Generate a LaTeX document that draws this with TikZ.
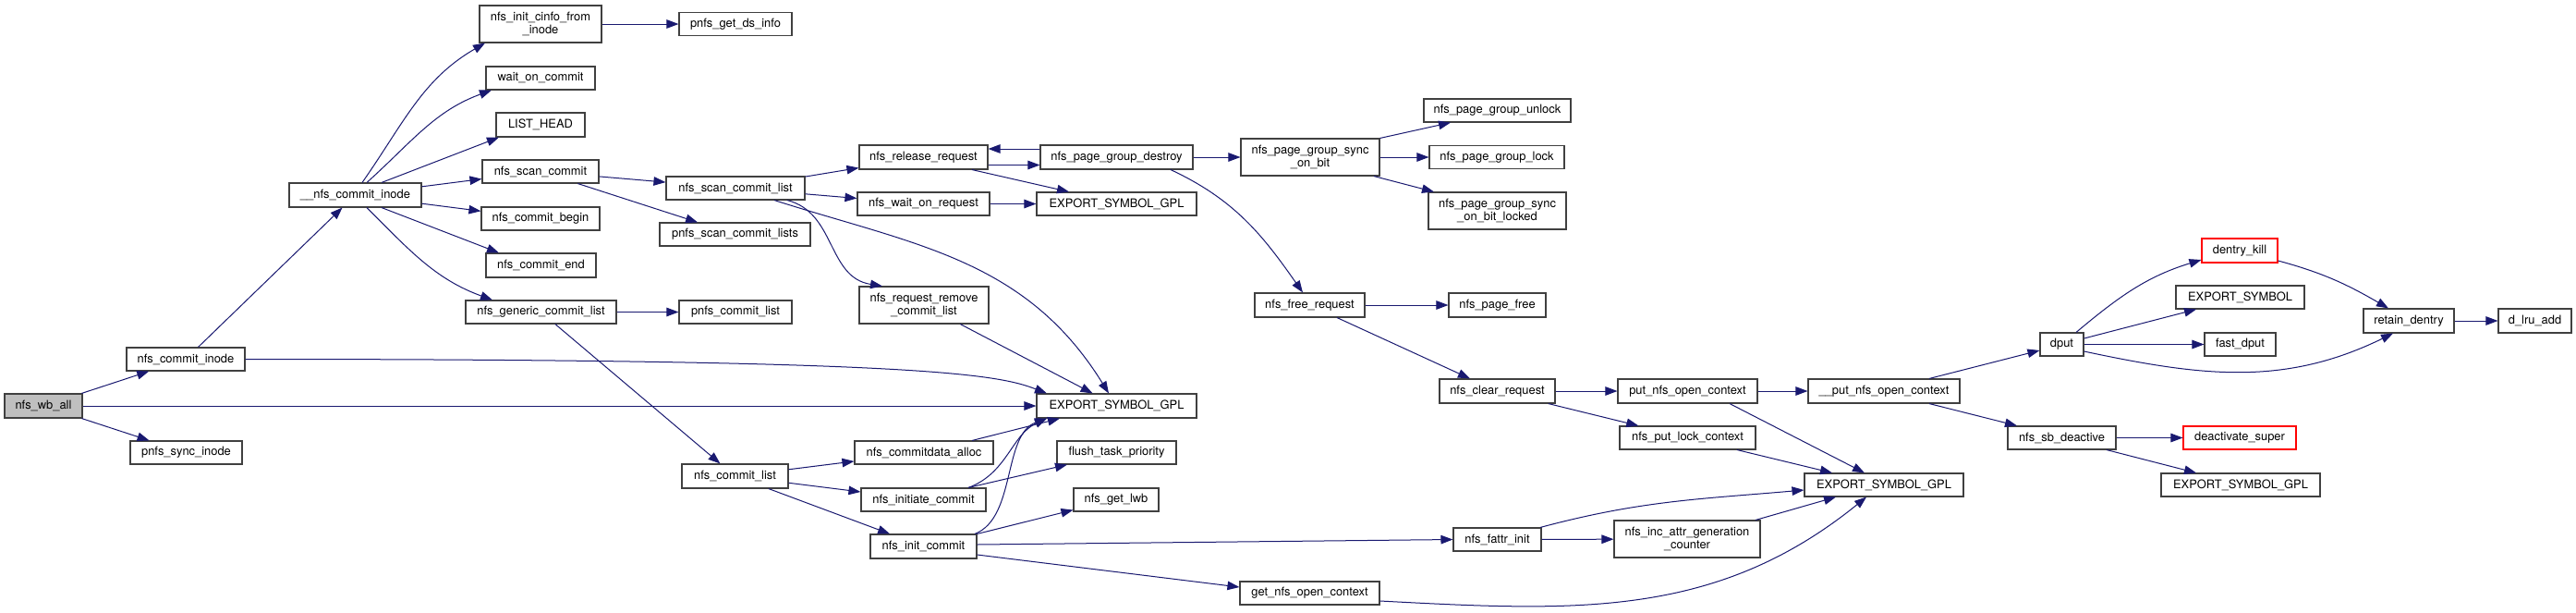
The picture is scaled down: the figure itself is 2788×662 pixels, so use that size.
\documentclass[tikz,border=0pt]{standalone}
\usepackage{fontspec}
\setmainfont{TeX Gyre Heros}
\usetikzlibrary{arrows.meta}
\definecolor{edgec}{HTML}{191970}
\definecolor{boxc}{HTML}{404040}
\definecolor{hl}{HTML}{BFBFBF}
\definecolor{redc}{HTML}{FF0000}
\begin{document}
\begin{tikzpicture}[x=1pt,y=-1pt,
 box/.style={draw=boxc, line width=1.1pt, fill=white, inner sep=0pt, align=center, font=\fontsize{12.9}{14.5}\selectfont},
 redbox/.style={box, draw=redc},
 wh/.style 2 args={minimum width=#1pt, minimum height=#2pt},
 edg/.style={draw=edgec, line width=1pt, -{Triangle[length=13pt,width=9.5pt]}},
]
\useasboundingbox (0,0) rectangle (2788,662);
\fill[white] (0,0) rectangle (2788,662);

\node[box,fill=hl,wh={84}{26}] (wball) at (47,439) {nfs\_wb\_all};
\node[box,wh={128}{25}] (nci) at (201,388.5) {nfs\_commit\_inode};
\node[box,wh={121}{25}] (psi) at (201.5,489.5) {pnfs\_sync\_inode};
\node[box,wh={143}{26}] (cni) at (384.5,211) {\_\_nfs\_commit\_inode};
\node[box,wh={132}{40}] (cinfo) at (585,26) {nfs\_init\_cinfo\_from\\\_inode};
\node[box,wh={122}{25.5}] (pgds) at (796,26) {pnfs\_get\_ds\_info};
\node[box,wh={118}{25}] (woc) at (585,84.5) {wait\_on\_commit};
\node[box,wh={96}{26}] (lh) at (585,135) {LIST\_HEAD};
\node[box,wh={126}{25}] (nsc) at (585,185.5) {nfs\_scan\_commit};
\node[box,wh={128}{25}] (ncb) at (585,236.5) {nfs\_commit\_begin};
\node[box,wh={119}{26}] (nce) at (585.5,287) {nfs\_commit\_end};
\node[box,wh={163}{25}] (ngcl) at (585.5,337.5) {nfs\_generic\_commit\_list};
\node[box,wh={122}{25}] (pcl) at (796,337.5) {pnfs\_commit\_list};
\node[box,wh={150}{25}] (nscl) at (796,203.5) {nfs\_scan\_commit\_list};
\node[box,wh={163}{25}] (pscl) at (795.5,253.5) {pnfs\_scan\_commit\_lists};
\node[box,wh={115}{26}] (ncl) at (795.5,515) {nfs\_commit\_list};
\node[box,wh={139}{26}] (nrr) at (999.5,170) {nfs\_release\_request};
\node[box,wh={165}{26}] (npgd) at (1208.5,170) {nfs\_page\_group\_destroy};
\node[box,wh={143}{25}] (nwor) at (999.5,220.5) {nfs\_wait\_on\_request};
\node[box,wh={173}{25}] (esga) at (1208.5,220.5) {EXPORT\_SYMBOL\_GPL};
\node[box,wh={140}{40}] (nrrcl) at (1000,330) {nfs\_request\_remove\\\_commit\_list};
\node[box,wh={173}{26}] (esgb) at (1208.5,439) {EXPORT\_SYMBOL\_GPL};
\node[box,wh={150}{25}] (nca) at (1000,489.5) {nfs\_commitdata\_alloc};
\node[box,wh={129}{25}] (ftp) at (1208.5,489.5) {flush\_task\_priority};
\node[box,wh={135}{25}] (nic) at (999.5,540.5) {nfs\_initiate\_commit};
\node[box,wh={92}{25}] (ngl) at (1208,540.5) {nfs\_get\_lwb};
\node[box,wh={115}{26}] (ninc) at (999.5,591) {nfs\_init\_commit};
\node[box,wh={151}{25}] (gnoc) at (1417.5,641.5) {get\_nfs\_open\_context};
\node[box,wh={119}{26}] (nfr) at (1417.5,330) {nfs\_free\_request};
\node[box,wh={150}{40}] (npgs) at (1418,170) {nfs\_page\_group\_sync\\\_on\_bit};
\node[box,wh={159}{25}] (npgu) at (1620.5,119.5) {nfs\_page\_group\_unlock};
\node[box,wh={146}{25}] (npgl) at (1620,170) {nfs\_page\_group\_lock};
\node[box,wh={149}{40}] (npgsl) at (1620.5,228) {nfs\_page\_group\_sync\\\_on\_bit\_locked};
\node[box,wh={105}{26}] (npf) at (1620.5,330) {nfs\_page\_free};
\node[box,wh={125}{26}] (ncr) at (1620.5,423) {nfs\_clear\_request};
\node[box,wh={151}{26}] (pnoc) at (1826.5,423) {put\_nfs\_open\_context};
\node[box,wh={147}{25}] (nplc) at (1826.5,473.5) {nfs\_put\_lock\_context};
\node[box,wh={95}{25}] (nfi) at (1620.5,583.5) {nfs\_fattr\_init};
\node[box,wh={158}{40}] (niagc) at (1826,583) {nfs\_inc\_attr\_generation\\\_counter};
\node[box,wh={164}{26}] (upnoc) at (2039,423) {\_\_put\_nfs\_open\_context};
\node[box,wh={172}{25}] (esgc) at (2039,524.5) {EXPORT\_SYMBOL\_GPL};
\node[box,wh={47}{25}] (dput) at (2231.5,372.5) {dput};
\node[box,wh={117}{25}] (nsd) at (2231.5,473.5) {nfs\_sb\_deactive};
\node[redbox,wh={82}{26}] (dk) at (2424,271) {dentry\_kill};
\node[box,wh={139}{25}] (es) at (2424.5,321.5) {EXPORT\_SYMBOL};
\node[box,wh={77}{25}] (fd) at (2424.5,372.5) {fast\_dput};
\node[box,wh={98}{26}] (rd) at (2607,347) {retain\_dentry};
\node[box,wh={79}{26}] (dla) at (2743.5,347) {d\_lru\_add};
\node[redbox,wh={122}{25}] (ds) at (2424,473.5) {deactivate\_super};
\node[box,wh={172}{25}] (esgd) at (2425,524.5) {EXPORT\_SYMBOL\_GPL};

\draw[edg] (wball) -- (nci);
\draw[edg] (wball) -- (esgb);
\draw[edg] (wball) -- (psi);
\draw[edg] (nci) -- (cni);
\draw[edg] (nci.east) .. controls (1000,388.5) and (1080,405) .. ([xshift=-75.5pt]esgb.north);
\draw[edg] ([xshift=7.5pt]cni.north) to[out=55,in=210] ([xshift=-60pt]cinfo.south);
\draw[edg] ([xshift=12.5pt]cni.north) to[out=42,in=200] ([xshift=-53pt]woc.south);
\draw[edg] ([xshift=28.5pt]cni.north) -- ([xshift=-45pt]lh.south);
\draw[edg] (cni) -- (nsc);
\draw[edg] (cni) -- (ncb);
\draw[edg] ([xshift=28.5pt]cni.south) -- ([xshift=-45.5pt]nce.north);
\draw[edg] ([xshift=12.5pt]cni.south) to[out=-45,in=160] ([xshift=-52.5pt]ngcl.north);
\draw[edg] (cinfo) -- (pgds);
\draw[edg] (nsc) -- (nscl);
\draw[edg] (nsc) -- (pscl);
\draw[edg] (ngcl) -- (pcl);
\draw[edg] (ngcl) -- (ncl);
\draw[edg] (nscl) -- (nrr);
\draw[edg] (nscl) -- (nwor);
\draw[edg] ([xshift=42pt]nscl.south) .. controls (990,265) and (1110,280) .. ([xshift=-8.5pt]esgb.north);
\draw[edg] ([xshift=56pt]nscl.south) .. controls (905,230) and (895,300) .. ([xshift=-45pt]nrrcl.north);
\draw[edg] ([yshift=-8.5pt]nrr.east) -- ([yshift=-8.5pt]npgd.west);
\draw[edg] ([yshift=9pt]npgd.west) -- ([yshift=9pt]nrr.east);
\draw[edg] ([xshift=52.5pt]nrr.south) -- ([xshift=-51.5pt]esga.north);
\draw[edg] (nwor) -- (esga);
\draw[edg] (nrrcl) -- (esgb);
\draw[edg] (npgd) -- (npgs);
\draw[edg] ([xshift=58.5pt]npgd.south) to[out=-25,in=125] ([xshift=-7.5pt]nfr.north);
\draw[edg] (npgs.north east) -- ([xshift=-50.5pt]npgu.south);
\draw[edg] (npgs) -- (npgl);
\draw[edg] ([xshift=69pt]npgs.south) -- ([xshift=-68.5pt]npgsl.north);
\draw[edg] (nfr) -- (npf);
\draw[edg] (nfr) -- (ncr);
\draw[edg] (ncr) -- (pnoc);
\draw[edg] (ncr) -- (nplc);
\draw[edg] (pnoc) -- (upnoc);
\draw[edg] ([xshift=45.5pt]pnoc.south) -- ([xshift=-21pt]esgc.north);
\draw[edg] ([xshift=53.5pt]nplc.south) -- ([xshift=-56pt]esgc.north);
\draw[edg] ([xshift=49pt]upnoc.north) -- ([yshift=-6.5pt]dput.west);
\draw[edg] ([xshift=49pt]upnoc.south) -- ([xshift=-48.5pt]nsd.north);
\draw[edg] ([xshift=15.5pt]dput.north) to[out=40,in=197] ([yshift=-10pt]dk.west);
\draw[edg] ([yshift=6.5pt]dput.east) -- ([xshift=-47.5pt]es.south);
\draw[edg] (dput) -- (fd);
\draw[edg] ([yshift=-7.5pt]dput.east) to[out=-12,in=206] ([xshift=-17pt]rd.south);
\draw[edg] ([yshift=-11pt]dk.east) to[out=-15,in=150] ([xshift=-22pt]rd.north);
\draw[edg] (rd) -- (dla);
\draw[edg] (nsd) -- (ds);
\draw[edg] ([xshift=48.5pt]nsd.south) -- ([xshift=-48pt]esgd.north);
\draw[edg] (ncl) -- (nca);
\draw[edg] (ncl) -- (nic);
\draw[edg] (ncl) -- (ninc);
\draw[edg] ([xshift=52pt]nca.north) -- ([xshift=-61.5pt]esgb.south);
\draw[edg] ([xshift=48.5pt]nic.north) .. controls (1090,512) and (1095,470) .. ([xshift=-75.5pt]esgb.south);
\draw[edg] ([xshift=48.5pt]nic.north) -- ([xshift=-53.5pt]ftp.south);
\draw[edg] ([xshift=55.5pt]ninc.north) .. controls (1100,560) and (1085,470) .. ([xshift=-75.5pt]esgb.south);
\draw[edg] (ninc.north east) -- ([yshift=2pt]ngl.south west);
\draw[edg] ([yshift=2pt]ninc.east) -- (nfi.west);
\draw[edg] ([yshift=-9pt]ninc.east) -- ([yshift=6.5pt]gnoc.west);
\draw[edg] ([xshift=46.5pt]nfi.north) to[out=15,in=185] ([yshift=-5.5pt]esgc.west);
\draw[edg] (nfi) -- (niagc);
\draw[edg] ([xshift=74pt]niagc.north) -- ([xshift=-52pt]esgc.south);
\draw[edg] ([yshift=-8.5pt]gnoc.east) to[out=-3,in=219] ([xshift=-19pt]esgc.south);
\end{tikzpicture}
\end{document}
